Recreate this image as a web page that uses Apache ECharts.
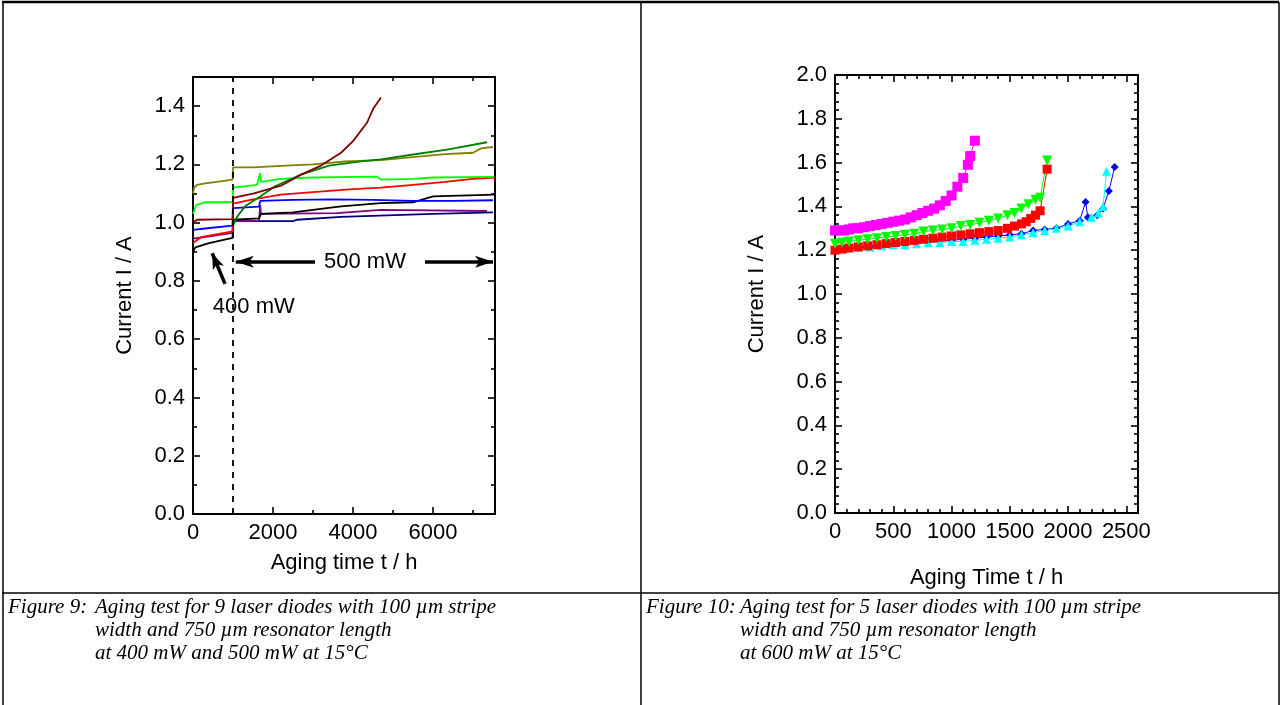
<!DOCTYPE html>
<html>
<head>
<meta charset="utf-8">
<script src="https://cdn.jsdelivr.net/npm/echarts@6/dist/echarts.min.js"></script>
<style>
  html, body { margin: 0; padding: 0; background: #fff; }
  #main { width: 1281px; height: 705px; }
</style>
</head>
<body>
<div id="main"></div>
<script>
// ---- Figure 9: nine diodes, [hours, current A]
var olive  = [[0,1.10],[30,1.12],[100,1.13],[300,1.135],[600,1.14],[990,1.148],[1000,1.19],[1500,1.19],[2200,1.195],[3000,1.20],[3800,1.21],[4700,1.215],[5500,1.225],[6300,1.235],[7000,1.24],[7200,1.255],[7500,1.26]];
var lime   = [[0,1.03],[80,1.06],[300,1.07],[990,1.07],[1000,1.12],[1600,1.13],[1680,1.17],[1700,1.14],[2200,1.15],[3000,1.155],[4600,1.158],[4700,1.148],[5500,1.15],[6000,1.155],[7500,1.157]];
var maroon = [[0,1.00],[100,1.01],[990,1.012],[1000,1.085],[1500,1.10],[2200,1.127],[2700,1.165],[3200,1.196],[3700,1.24],[4000,1.28],[4350,1.343],[4500,1.39],[4700,1.43]];
var red9   = [[0,0.93],[200,0.95],[990,0.97],[1000,1.065],[1500,1.08],[2200,1.096],[3000,1.105],[4000,1.115],[4700,1.12],[5500,1.13],[6300,1.14],[7000,1.15],[7550,1.155]];
var dgreen = [[1000,0.99],[1100,1.02],[1300,1.056],[1680,1.09],[2050,1.125],[2700,1.165],[3400,1.196],[4250,1.211],[4700,1.217],[5500,1.234],[6350,1.251],[7350,1.276]];
var blue9  = [[0,0.975],[300,0.98],[990,0.99],[1000,1.05],[1650,1.055],[1680,1.075],[2500,1.078],[3500,1.08],[4500,1.078],[5500,1.075],[6500,1.075],[7500,1.077]];
var black9 = [[0,0.90],[60,0.915],[400,0.93],[990,0.948],[1000,1.01],[1650,1.015],[1700,1.03],[2500,1.035],[3700,1.056],[4700,1.067],[5500,1.07],[6000,1.09],[7550,1.096]];
var purple = [[0,0.945],[500,0.955],[990,0.965],[1000,1.005],[1650,1.005],[1680,1.06],[1700,1.03],[3600,1.033],[4700,1.044],[7350,1.04]];
var navy   = [[1000,1.005],[2500,1.005],[2600,1.01],[3700,1.02],[6000,1.03],[7500,1.035]];

// ---- Figure 10: five diodes
var magenta = [[0,1.29],[40,1.29],[80,1.29],[120,1.295],[160,1.30],[200,1.30],[250,1.305],[300,1.31],[350,1.315],[400,1.32],[450,1.325],[500,1.33],[550,1.335],[600,1.34],[650,1.35],[700,1.36],[750,1.37],[800,1.38],[850,1.39],[900,1.405],[950,1.425],[1000,1.45],[1050,1.49],[1100,1.53],[1140,1.59],[1160,1.63],[1200,1.70]];
var green10 = [[0,1.23],[60,1.235],[120,1.24],[200,1.245],[280,1.25],[360,1.255],[440,1.26],[520,1.265],[600,1.27],[680,1.275],[760,1.285],[840,1.29],[920,1.295],[1000,1.30],[1080,1.31],[1160,1.315],[1240,1.325],[1320,1.335],[1400,1.345],[1480,1.36],[1540,1.37],[1600,1.39],[1660,1.41],[1720,1.43],[1760,1.44],[1820,1.61]];
var red10   = [[0,1.20],[60,1.205],[120,1.21],[200,1.215],[280,1.22],[360,1.225],[440,1.23],[520,1.235],[600,1.24],[680,1.245],[760,1.25],[840,1.255],[920,1.26],[1000,1.265],[1080,1.27],[1160,1.275],[1240,1.28],[1320,1.285],[1400,1.29],[1480,1.30],[1540,1.31],[1600,1.32],[1640,1.33],[1680,1.345],[1720,1.36],[1760,1.38],[1820,1.57]];
var cyan10  = [[0,1.205],[100,1.21],[200,1.215],[300,1.215],[400,1.22],[500,1.225],[600,1.225],[700,1.23],[800,1.235],[900,1.235],[1000,1.24],[1100,1.24],[1200,1.245],[1300,1.25],[1400,1.255],[1500,1.26],[1600,1.27],[1700,1.28],[1800,1.29],[1900,1.30],[2000,1.31],[2100,1.33],[2200,1.35],[2260,1.37],[2300,1.40],[2330,1.56]];
var blue10  = [[0,1.20],[100,1.205],[200,1.21],[300,1.215],[400,1.22],[500,1.225],[600,1.23],[700,1.235],[800,1.24],[900,1.245],[1000,1.245],[1100,1.25],[1200,1.255],[1300,1.26],[1400,1.265],[1500,1.27],[1600,1.275],[1700,1.29],[1800,1.295],[1900,1.30],[2000,1.32],[2100,1.335],[2150,1.42],[2170,1.35],[2250,1.36],[2300,1.39],[2350,1.47],[2400,1.58]];

// ticks
var x9Major = [0, 2000, 4000, 6000];
var x9Minor = [1000, 3000, 5000, 7000];
var y9Major = [0, 0.2, 0.4, 0.6, 0.8, 1.0, 1.2, 1.4];
var y9Minor = [0.1, 0.3, 0.5, 0.7, 0.9, 1.1, 1.3, 1.5];
var x10Major = [0, 500, 1000, 1500, 2000, 2500];
var x10Minor = [];
for (var i = 100; i < 2600; i += 100) if (i % 500) x10Minor.push(i);
var y10Major = [0, 0.2, 0.4, 0.6, 0.8, 1.0, 1.2, 1.4, 1.6, 1.8, 2.0];
var y10Minor = [];
for (var k = 1; k < 50; k++) if (k % 5) y10Minor.push(+(k * 0.04).toFixed(2));

var FONT = 'Liberation Sans, Arial, sans-serif';
var SERIF = 'Liberation Serif, Times New Roman, serif';
var FS = 22;

var grids = [
  { left: 193, top: 77, width: 302, height: 437 },   // fig 9
  { left: 193, top: 77, width: 302, height: 437 },   // fig 9 minor ticks
  { left: 835, top: 75, width: 303, height: 438 },   // fig 10
  { left: 835, top: 75, width: 303, height: 438 }    // fig 10 minor ticks
];

function axis(grid, pos, min, max, ticks, len, opts) {
  var a = {
    type: 'value', gridIndex: grid, position: pos, min: min, max: max,
    splitLine: { show: false },
    axisLine: { show: opts.line, onZero: false, lineStyle: { color: '#000', width: 2 } },
    axisTick: { show: true, inside: true, length: len, customValues: ticks, lineStyle: { color: '#000', width: 1.6 } },
    axisLabel: { show: false }
  };
  if (opts.labels) {
    a.axisLabel = { show: true, customValues: opts.labels, color: '#000', fontSize: FS, fontFamily: FONT,
      margin: 8, formatter: opts.fmt };
  }
  if (opts.name) {
    a.name = opts.name; a.nameLocation = 'middle'; a.nameGap = opts.nameGap;
    a.nameTextStyle = { color: '#000', fontSize: FS, fontFamily: FONT };
  }
  return a;
}

var fmt1 = function (v) { return v.toFixed(1); };
var fmt0 = function (v) { return String(v); };

var xAxes = [
  axis(0, 'bottom', 0, 7550, x9Major, 7, { line: true, labels: x9Major, fmt: fmt0, name: 'Aging time t / h', nameGap: 38 }),
  axis(0, 'top', 0, 7550, x9Major, 7, { line: true }),
  axis(1, 'bottom', 0, 7550, x9Minor, 4, { line: false }),
  axis(1, 'top', 0, 7550, x9Minor, 4, { line: false }),
  axis(2, 'bottom', 0, 2600, x10Major, 7, { line: true, labels: x10Major, fmt: fmt0, name: 'Aging Time t / h', nameGap: 54 }),
  axis(2, 'top', 0, 2600, x10Major, 7, { line: true }),
  axis(3, 'bottom', 0, 2600, x10Minor, 4, { line: false }),
  axis(3, 'top', 0, 2600, x10Minor, 4, { line: false })
];
var yAxes = [
  axis(0, 'left', 0, 1.5, y9Major, 7, { line: true, labels: y9Major, fmt: fmt1, name: 'Current I / A', nameGap: 57 }),
  axis(0, 'right', 0, 1.5, y9Major, 7, { line: true }),
  axis(1, 'left', 0, 1.5, y9Minor, 4, { line: false }),
  axis(1, 'right', 0, 1.5, y9Minor, 4, { line: false }),
  axis(2, 'left', 0, 2.0, y10Major, 7, { line: true, labels: y10Major, fmt: fmt1, name: 'Current I / A', nameGap: 67 }),
  axis(2, 'right', 0, 2.0, y10Major, 7, { line: true }),
  axis(3, 'left', 0, 2.0, y10Minor, 4, { line: false }),
  axis(3, 'right', 0, 2.0, y10Minor, 4, { line: false })
];

function line9(name, data, color) {
  return { name: name, type: 'line', xAxisIndex: 0, yAxisIndex: 0, data: data, symbol: 'none',
    lineStyle: { color: color, width: 1.8 }, z: 3 };
}
function line10(name, data, color, symbol, size) {
  return { name: name, type: 'line', xAxisIndex: 4, yAxisIndex: 4, data: data, symbol: symbol,
    symbolSize: size, itemStyle: { color: color }, lineStyle: { color: color, width: 1 }, z: 3 };
}

var series = [
  line9('navy', navy, '#000080'),
  line9('purple', purple, '#800080'),
  line9('black', black9, '#000000'),
  line9('blue', blue9, '#0000ff'),
  line9('red', red9, '#ff0000'),
  line9('lime', lime, '#00ff00'),
  line9('olive', olive, '#808000'),
  line9('darkgreen', dgreen, '#008000'),
  line9('maroon', maroon, '#800000'),
  line10('blue', blue10, '#0000ff', 'diamond', 8),
  line10('cyan', cyan10, '#00ffff', 'triangle', 9),
  line10('red', red10, '#ff0000', 'rect', 9),
  line10('green', green10, '#00ff00', 'path://M0,0L10,0L5,9Z', 10),
  line10('magenta', magenta, '#ff00ff', 'rect', 10)
];

// dashed 400/500 mW boundary and annotations on fig 9
series.push({
  type: 'line', xAxisIndex: 0, yAxisIndex: 0, data: [], silent: true,
  markLine: {
    silent: true, symbol: 'none', label: { show: false },
    data: [
      { xAxis: 1000, lineStyle: { type: [6, 6], color: '#000', width: 1.8 } },
      [{ coord: [3050, 0.866], symbol: 'none' }, { coord: [1070, 0.866], symbol: 'arrow', symbolSize: [9, 18] }],
      [{ coord: [5800, 0.866], symbol: 'none' }, { coord: [7500, 0.866], symbol: 'arrow', symbolSize: [9, 18] }],
      [{ coord: [800, 0.79], symbol: 'none' }, { coord: [480, 0.895], symbol: 'arrow', symbolSize: [9, 16] }]
    ],
    lineStyle: { type: 'solid', color: '#000', width: 3.5 }
  },
  markPoint: {
    silent: true, symbol: 'circle', symbolSize: 0,
    label: { show: true, position: 'inside', color: '#000', fontSize: FS, fontFamily: FONT, formatter: '{b}' },
    data: [
      { name: '500 mW', coord: [4300, 0.866] },
      { name: '400 mW', coord: [1520, 0.71] }
    ]
  }
});

function cap(x, y, text) {
  return { type: 'text', left: x, top: y, style: { text: text, fill: '#000', font: 'italic 21px ' + SERIF } };
}
function rule(x1, y1, x2, y2, w) {
  return { type: 'line', shape: { x1: x1, y1: y1, x2: x2, y2: y2 }, style: { stroke: '#000', lineWidth: w } };
}

var graphic = [
  rule(2, 2, 1279, 2, 2.5),
  rule(3, 2, 3, 705, 1.5),
  rule(1279, 2, 1279, 705, 1.5),
  rule(641, 2, 641, 705, 1.5),
  rule(2, 593, 1279, 593, 1.5),
  cap(8, 597, 'Figure 9:'),
  cap(95, 597, 'Aging test for 9 laser diodes with 100 µm stripe'),
  cap(95, 620, 'width and 750 µm resonator length'),
  cap(95, 643, 'at 400 mW and 500 mW at 15°C'),
  cap(646, 597, 'Figure 10:'),
  cap(740, 597, 'Aging test for 5 laser diodes with 100 µm stripe'),
  cap(740, 620, 'width and 750 µm resonator length'),
  cap(740, 643, 'at 600 mW at 15°C')
];

var chart = echarts.init(document.getElementById('main'));
chart.setOption({
  animation: false,
  backgroundColor: '#fff',
  grid: grids,
  xAxis: xAxes,
  yAxis: yAxes,
  series: series,
  graphic: graphic
});
</script>
</body>
</html>
